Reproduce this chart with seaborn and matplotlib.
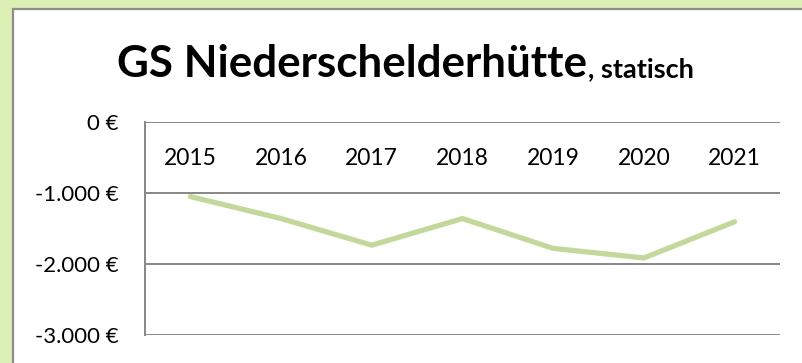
import matplotlib
matplotlib.use("Agg")
import matplotlib.pyplot as plt
from matplotlib.patches import Rectangle
import seaborn as sns
import pandas as pd

years = ["2015", "2016", "2017", "2018", "2019", "2020", "2021"]
values = [-1050, -1360, -1735, -1360, -1780, -1915, -1405]
y_ticks = [0, -1000, -2000, -3000]
y_tick_labels = ["0 €", "-1.000 €", "-2.000 €", "-3.000 €"]

df = pd.DataFrame({"Jahr": years, "Wert": values})

sns.set_theme(style="white")
plt.rcParams["font.family"] = ["Lato", "DejaVu Sans"]

W, H = 803, 363
fig = plt.figure(figsize=(W / 100, H / 100), dpi=100)
fig.patch.set_facecolor("#dcf0b6")

# white chart panel with a grey frame
panel = Rectangle((13 / W, -0.05), 1.2, 1 - 9 / H + 0.05, transform=fig.transFigure,
                  facecolor="white", edgecolor="#8c8c8c", linewidth=1.6, zorder=-5)
fig.patches.append(panel)

ax = fig.add_axes([145 / W, 1 - 335 / H, (780 - 145) / W, (335 - 122) / H])
ax.set_facecolor("none")
ax.set_zorder(2)

sns.lineplot(data=df, x="Jahr", y="Wert", ax=ax, color="#c4d89c", linewidth=3.8,
             sort=False, solid_capstyle="round", zorder=3)

ax.set_xlim(-0.5, 6.5)
ax.set_ylim(-3000, 0)
ax.set_yticks(y_ticks)
ax.set_yticklabels(y_tick_labels)
ax.set_xlabel("")
ax.set_ylabel("")

for v in y_ticks:
    ax.axhline(v, color="#878787", linewidth=1.4, zorder=1)

for s in ["right", "bottom", "top"]:
    ax.spines[s].set_visible(False)
ax.spines["left"].set_color("#878787")
ax.spines["left"].set_linewidth(1.4)

ax.tick_params(axis="y", length=0, pad=19, labelsize=16, labelcolor="black")
ax.xaxis.set_ticks_position("top")
ax.tick_params(axis="x", top=False, bottom=False, labeltop=True, labelbottom=False,
               length=0, pad=-34, labelsize=16.5, labelcolor="black")

t1 = fig.text(117 / W, 1 - 77 / H, "GS Niederschelderhütte", fontsize=31.7,
              fontweight="bold", ha="left", va="baseline", color="black")
fig.canvas.draw()
bb = t1.get_window_extent()
fig.text(bb.x1 / W + 1 / W, 1 - 77 / H, ", statisch", fontsize=19.5,
         fontweight="bold", ha="left", va="baseline", color="black")

fig.savefig("out.png", dpi=100)
